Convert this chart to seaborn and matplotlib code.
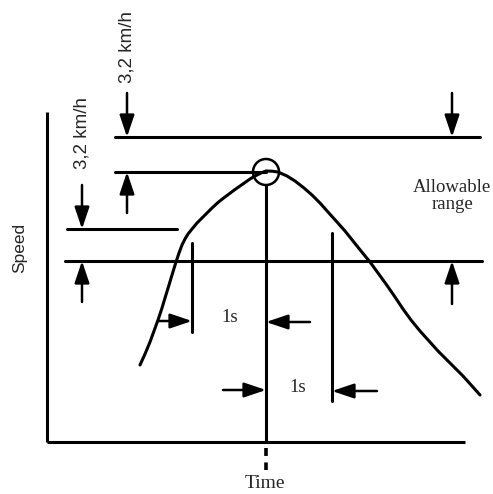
import numpy as np
import pandas as pd
import matplotlib
matplotlib.use('Agg')
import matplotlib.pyplot as plt
import seaborn as sns
from matplotlib.patches import Circle

temps = [93, 98, 103, 107, 111, 115, 118, 122, 125, 129, 132, 135, 138, 141, 145, 150, 155,
         160, 165, 171, 176, 182, 188, 193, 198, 203, 207, 211, 215, 219,
         225, 231, 240, 248, 257, 265, 273, 281, 290, 298, 306, 314, 323, 331, 339, 348,
         356, 364, 373, 382, 391, 400, 408, 416, 425, 433]
vitesse = [77, 88, 100, 111, 122, 134, 144, 157, 167, 180, 189, 197, 203, 208, 213, 219, 224,
           229, 234, 239.5, 243.5, 248, 252.5, 256, 259.5, 263, 265.5, 267.5, 269.5, 271,
           270.8, 270, 266, 261, 254, 247, 239, 230, 220, 211, 201, 191, 180, 169, 158, 145,
           133, 122, 111, 101, 91, 82, 74, 66, 56, 47]

t_pic = 219
v_haut = 305      # limite haute de la plage admissible
v_pic = 270       # vitesse maximale atteinte
v_gauche = 213    # niveau à 3,2 km/h sous le pic
v_bas = 181       # limite basse de la plage admissible
t_avant = 145     # 1 s avant la sortie de plage
t_apres = 285     # 1 s après la sortie de plage

lbl_delta = "3,2 km/h"
lbl_plage = "Allowable\nrange"
lbl_sec = "1s"
lbl_x = "Time"
lbl_y = "Speed"

df = pd.DataFrame({'Temps': temps, 'Vitesse': vitesse})

sns.set_style('white')
fig = plt.figure(figsize=(4.93, 4.94), dpi=100)
ax = fig.add_axes([0, 0, 1, 1])
ax.set_xlim(-47, 446)
ax.set_ylim(-52, 442)
ax.axis('off')

lw = 2.2
k = 'black'

# axes du schéma
ax.plot([0, 0], [0, 330], color=k, lw=lw, solid_capstyle='butt')
ax.plot([0, 418], [0, 0], color=k, lw=lw, solid_capstyle='butt')

# courbe de vitesse
sns.lineplot(data=df, x='Temps', y='Vitesse', sort=False, color=k, lw=2.2, ax=ax)
ax.lines[-1].set_solid_joinstyle('round')

# niveaux horizontaux
ax.plot([68, 433], [v_haut, v_haut], color=k, lw=lw)
ax.plot([68, t_pic], [v_pic, v_pic], color=k, lw=lw)
ax.plot([20, 130], [v_gauche, v_gauche], color=k, lw=lw)
ax.plot([18, 435], [v_bas, v_bas], color=k, lw=lw)

# verticales
ax.plot([t_pic, t_pic], [0, 257], color=k, lw=lw)
ax.plot([t_avant, t_avant], [110, 199], color=k, lw=lw)
ax.plot([t_apres, t_apres], [41, 209], color=k, lw=lw)
ax.plot([t_pic, t_pic], [-6, -28], color=k, lw=2.6, linestyle=(0, (2.2, 1.8)))

# cercle au pic
ax.add_patch(Circle((t_pic, v_pic), 13, fill=False, ec=k, lw=1.8))

# flèches
def fleche(x0, y0, x1, y1):
    ax.annotate('', xy=(x1, y1), xytext=(x0, y0),
                arrowprops=dict(arrowstyle='-|>,head_length=0.95,head_width=0.32',
                                color=k, lw=1.8, mutation_scale=14,
                                shrinkA=0, shrinkB=0))

fleche(80, 349, 80, v_haut)
fleche(80, 229, 80, v_pic)
fleche(35, 257, 35, v_gauche)
fleche(35, 140, 35, v_bas)
fleche(405, 349, 405, v_haut)
fleche(405, 138, 405, v_bas)
fleche(111, 121, t_avant, 121)
fleche(263, 120, t_pic, 120)
fleche(176, 52, t_pic, 52)
fleche(330, 51, t_apres, 51)

# textes
sans = ['Liberation Sans', 'DejaVu Sans']
serif = ['Liberation Serif', 'DejaVu Serif']
ax.text(80, 395, lbl_delta, rotation=90, ha='center', va='center', fontsize=13.5, family=sans)
ax.text(35, 309, lbl_delta, rotation=90, ha='center', va='center', fontsize=13.5, family=sans)
ax.text(405, 246, lbl_plage, ha='center', va='center', fontsize=13.5, family=serif, linespacing=1.0)
ax.text(183, 124, lbl_sec, ha='center', va='center', fontsize=13.5, family=serif)
ax.text(251, 55, lbl_sec, ha='center', va='center', fontsize=13.5, family=serif)
ax.text(-27, 194, lbl_y, rotation=90, ha='center', va='center', fontsize=12.5, family=sans)
ax.text(218, -41, lbl_x, ha='center', va='center', fontsize=14, family=serif)

fig.savefig('out.png', dpi=100, facecolor='white')
